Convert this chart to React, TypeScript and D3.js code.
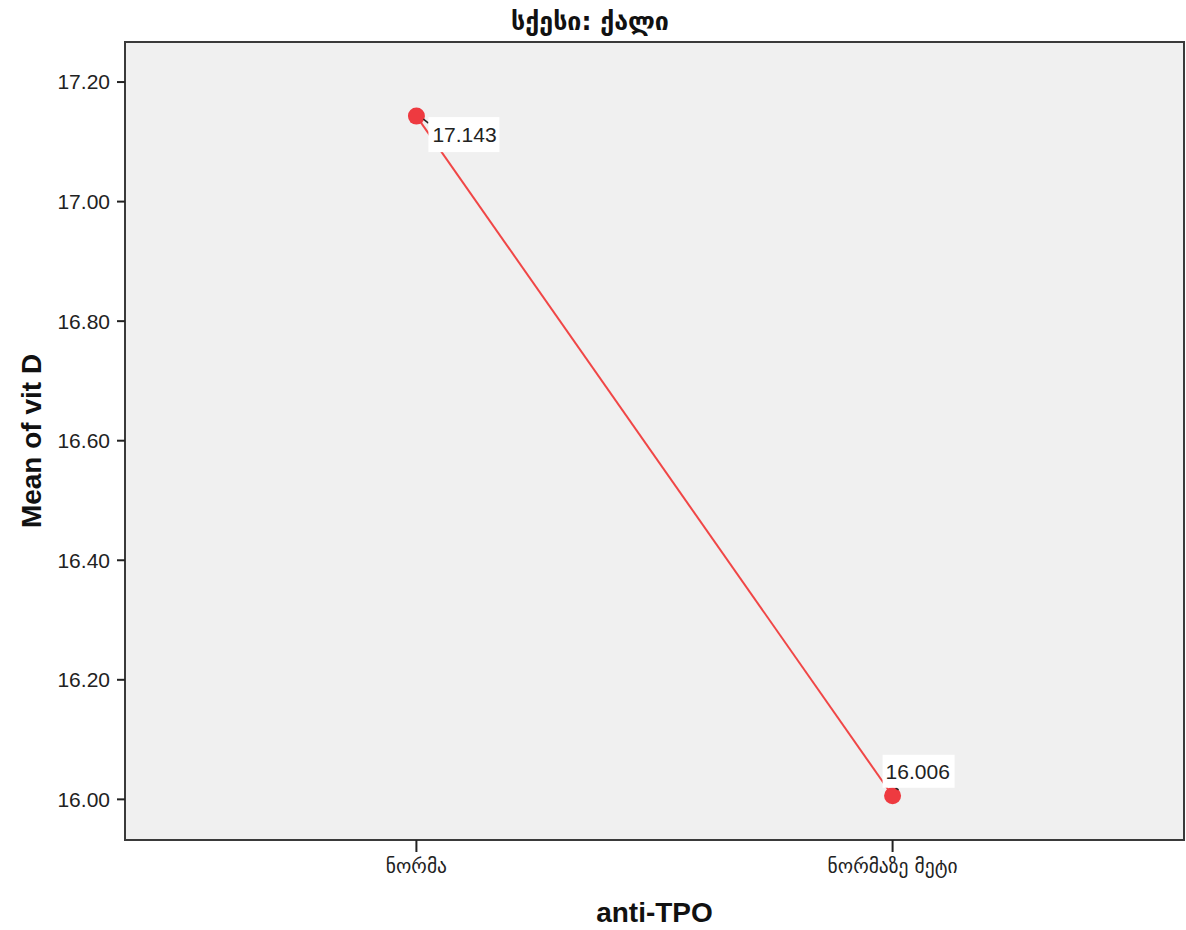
import React from "react";
import * as d3 from "d3";

const categories: string[] = ["ნორმა", "ნორმაზე მეტი"];
const meanValues: number[] = [17.143, 16.006];
const valueLabels: string[] = ["17.143", "16.006"];
const yTicks: number[] = [16.0, 16.2, 16.4, 16.6, 16.8, 17.0, 17.2];
const chartTitle = "სქესი: ქალი";
const xTitle = "anti-TPO";
const yTitle = "Mean of vit D";

const W = 1186;
const H = 930;
const plot = { left: 125, right: 1184, top: 42, bottom: 840 };

export default function App() {
  const y = d3.scaleLinear().domain([15.932, 17.267]).range([plot.bottom, plot.top]);
  const x = d3
    .scalePoint<string>()
    .domain(categories)
    .range([plot.left, plot.right])
    .padding(0.612);

  const pts = categories.map((c, i) => [x(c) as number, y(meanValues[i])] as [number, number]);
  const line = d3.line()(pts) as string;
  const latin = "'Liberation Sans', Arial, 'DejaVu Sans', sans-serif";
  const geo = "'DejaVu Sans', 'Liberation Sans', sans-serif";

  return (
    <svg width={W} height={H} style={{ position: "absolute", left: 0, top: 0 }}>
      <rect x={0} y={0} width={W} height={H} fill="#ffffff" />
      <text x={590} y={30} textAnchor="middle" fontFamily={geo} fontWeight="bold" fontSize={25} fill="#111">
        {chartTitle}
      </text>
      <rect
        x={plot.left}
        y={plot.top}
        width={plot.right - plot.left}
        height={plot.bottom - plot.top}
        fill="#f0f0f0"
        stroke="#3a3a3a"
        strokeWidth={2}
      />
      {yTicks.map((t) => (
        <g key={t}>
          <line x1={plot.left - 8} x2={plot.left} y1={y(t)} y2={y(t)} stroke="#222" strokeWidth={2} />
          <text
            x={plot.left - 15}
            y={y(t)}
            dy="0.35em"
            textAnchor="end"
            fontFamily={latin}
            fontSize={21}
            fill="#222"
          >
            {d3.format(".2f")(t)}
          </text>
        </g>
      ))}
      {categories.map((c) => (
        <g key={c}>
          <line x1={x(c)} x2={x(c)} y1={plot.bottom} y2={plot.bottom + 12} stroke="#222" strokeWidth={2} />
          <text x={x(c)} y={873} textAnchor="middle" fontFamily={geo} fontSize={19.5} fill="#222">
            {c}
          </text>
        </g>
      ))}
      <text x={(plot.left + plot.right) / 2} y={922} textAnchor="middle" fontFamily={latin} fontWeight="bold" fontSize={28} fill="#111">
        {xTitle}
      </text>
      <text
        transform={`translate(41,${(plot.top + plot.bottom) / 2}) rotate(-90)`}
        textAnchor="middle"
        fontFamily={latin}
        fontWeight="bold"
        fontSize={28}
        fill="#111"
      >
        {yTitle}
      </text>
      <path d={line} fill="none" stroke="#f04646" strokeWidth={2} />
      {pts.map((p, i) => (
        <circle key={i} cx={p[0]} cy={p[1]} r={8.5} fill="#ee3a40" />
      ))}
      <g>
        <line x1={pts[0][0] + 7} y1={pts[0][1] + 3} x2={pts[0][0] + 12} y2={pts[0][1] + 7} stroke="#222" strokeWidth={1.5} />
        <rect x={pts[0][0] + 12} y={pts[0][1] + 1} width={71} height={35} fill="#ffffff" />
        <text x={pts[0][0] + 16} y={pts[0][1] + 26} fontFamily={latin} fontSize={21} fill="#222">
          {valueLabels[0]}
        </text>
      </g>
      <g>
        <line x1={pts[1][0] + 3} y1={pts[1][1] - 8} x2={pts[1][0] + 6} y2={pts[1][1] - 6} stroke="#222" strokeWidth={1.5} />
        <rect x={pts[1][0] - 10} y={pts[1][1] - 41} width={72} height={33} fill="#ffffff" />
        <text x={pts[1][0] - 7} y={pts[1][1] - 17} fontFamily={latin} fontSize={21} fill="#222">
          {valueLabels[1]}
        </text>
      </g>
    </svg>
  );
}
